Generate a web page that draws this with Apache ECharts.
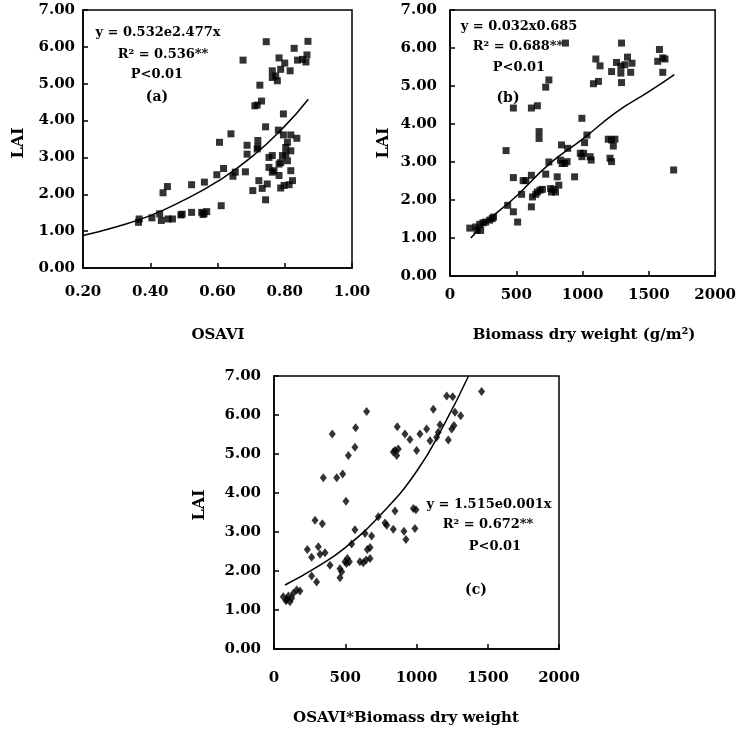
<!DOCTYPE html>
<html>
<head>
<meta charset="utf-8">
<script src="https://cdn.jsdelivr.net/npm/echarts@6/dist/echarts.min.js"></script>
<style>
  html, body { margin: 0; padding: 0; background: #fff; }
  #chart { width: 739px; height: 735px; }
</style>
</head>
<body>
<div id="chart"></div>
<script>
// (a) OSAVI vs LAI
var osaviA = [0.365, 0.367, 0.405, 0.428, 0.433, 0.438, 0.451, 0.453, 0.466, 0.491, 0.495, 0.523, 0.523, 0.553, 0.557, 0.560, 0.568, 0.561, 0.598, 0.606,
  0.611, 0.618, 0.640, 0.646, 0.653, 0.676, 0.683, 0.688, 0.688, 0.705, 0.711, 0.718, 0.718, 0.720, 0.720, 0.723, 0.726, 0.731, 0.733, 0.743,
  0.743, 0.745, 0.748, 0.753, 0.753, 0.763, 0.763, 0.763, 0.763, 0.768, 0.773, 0.778, 0.781, 0.783, 0.783, 0.783, 0.788, 0.788, 0.788, 0.793,
  0.796, 0.796, 0.798, 0.800, 0.803, 0.803, 0.808, 0.808, 0.813, 0.816, 0.818, 0.818, 0.818, 0.823, 0.828, 0.836, 0.838, 0.853, 0.863, 0.866, 0.869]
var laiA = [1.24, 1.33, 1.36, 1.47, 1.29, 2.04, 2.21, 1.33, 1.33, 1.44, 1.46, 1.51, 2.26, 1.51, 1.45, 1.48, 1.53, 2.33, 2.53, 3.41,
  1.69, 2.70, 3.64, 2.49, 2.60, 5.64, 2.61, 3.33, 3.09, 2.10, 4.40, 4.42, 3.23, 3.46, 3.28, 2.37, 4.96, 4.53, 2.16, 1.85,
  3.83, 6.14, 2.28, 3.00, 2.73, 3.05, 2.60, 5.35, 5.17, 2.64, 5.21, 5.08, 3.74, 5.70, 2.82, 2.51, 5.39, 2.86, 2.17, 3.05,
  4.18, 3.61, 2.24, 5.56, 3.27, 3.09, 2.91, 3.41, 2.26, 5.35, 3.61, 3.18, 2.64, 2.37, 5.96, 3.52, 5.64, 5.66, 5.59, 5.78, 6.15]
var trendAx = [0.2, 0.3, 0.4, 0.5, 0.6, 0.7, 0.8, 0.87]
var trendAy = [0.88, 1.12, 1.42, 1.84, 2.35, 3.0, 3.85, 4.58]

// (b) biomass dry weight vs LAI
var biomassB = [149, 194, 204, 224, 231, 249, 269, 299, 318, 328, 423, 435, 478, 478, 478, 510, 540, 552, 572, 614,
  659, 614, 614, 622, 647, 659, 679, 697, 672, 672, 722, 746, 722, 746, 759, 784, 796, 766, 809, 821,
  841, 833, 846, 866, 883, 888, 871, 940, 983, 995, 1008, 995, 1033, 1015, 1057, 1065, 1082, 1120, 1100, 1132,
  1194, 1244, 1232, 1219, 1207, 1219, 1219, 1256, 1289, 1289, 1294, 1294, 1319, 1339, 1363, 1373, 1567, 1580, 1605, 1622, 1605, 1687]
var laiB = [1.26, 1.29, 1.20, 1.36, 1.20, 1.40, 1.42, 1.47, 1.51, 1.55, 3.30, 1.86, 2.59, 4.42, 1.69, 1.42, 2.15, 2.51, 2.51, 4.42,
  4.48, 2.65, 1.82, 2.08, 2.15, 2.21, 2.26, 2.28, 3.80, 3.62, 4.97, 5.16, 2.68, 3.00, 2.30, 2.28, 2.21, 2.21, 2.61, 2.39,
  3.45, 3.05, 2.96, 2.96, 3.01, 3.36, 6.13, 2.61, 3.23, 3.14, 3.23, 4.15, 3.71, 3.51, 3.14, 3.05, 5.06, 5.12, 5.71, 5.53,
  3.60, 3.60, 3.42, 3.58, 3.10, 3.01, 5.38, 5.62, 5.52, 5.34, 6.13, 5.09, 5.56, 5.76, 5.36, 5.60, 5.65, 5.96, 5.74, 5.71, 5.36, 2.79]
var trendBx = [157, 300, 500, 750, 1000, 1250, 1500, 1692]
var trendBy = [1.0, 1.5, 2.1, 2.95, 3.6, 4.3, 4.85, 5.3]

// (c) OSAVI*biomass vs LAI
var productC = [65, 84, 89, 101, 112, 124, 136, 159, 182, 234, 264, 264, 288, 299, 311, 323, 339, 346, 358, 393,
  409, 440, 463, 463, 475, 482, 498, 505, 510, 515, 522, 529, 545, 568, 568, 573, 603, 627, 639, 646,
  650, 655, 674, 674, 685, 732, 779, 791, 837, 849, 837, 849, 861, 872, 865, 912, 919, 926, 954, 978,
  989, 996, 1001, 1024, 1071, 1095, 1118, 1141, 1153, 1165, 1212, 1223, 1247, 1254, 1263, 1270, 1310, 1457]
var laiC = [1.34, 1.24, 1.27, 1.36, 1.21, 1.30, 1.43, 1.51, 1.49, 2.55, 2.35, 1.87, 3.30, 1.72, 2.62, 2.43, 3.21, 4.39, 2.47, 2.15,
  5.51, 4.39, 2.06, 1.83, 1.98, 4.49, 2.24, 3.79, 2.19, 2.32, 4.96, 2.24, 2.69, 5.17, 3.06, 5.67, 2.24, 2.21, 2.96, 2.28,
  6.09, 2.55, 2.32, 2.60, 2.90, 3.39, 3.23, 3.17, 3.07, 3.54, 5.05, 5.09, 4.96, 5.13, 5.70, 3.02, 5.51, 2.81, 5.37, 3.60,
  3.09, 3.57, 5.09, 5.51, 5.64, 5.34, 6.15, 5.43, 5.56, 5.75, 6.49, 5.36, 5.64, 6.47, 5.73, 6.07, 5.98, 6.60]
var trendCx = [77, 300, 500, 750, 1000, 1200, 1365]
var trendCy = [1.64, 2.1, 2.6, 3.45, 4.55, 5.8, 7.0]

var lai = 'LAI'
var font = 'DejaVu Serif'

function pairs(xs, ys) {
  return xs.map(function (x, i) { return [x, ys[i]] })
}

function xAxisCfg(gi, min, max, interval, margin, fmt) {
  return {
    gridIndex: gi, type: 'value', min: min, max: max, interval: interval,
    axisLine: { show: true, onZero: false, lineStyle: { color: '#000', width: 1.5 } },
    axisTick: { show: true, inside: true, length: 5, lineStyle: { color: '#000', width: 1.5 } },
    axisLabel: { margin: margin, color: '#000', fontFamily: font, fontWeight: 'bold', fontSize: 15, formatter: fmt },
    splitLine: { show: false }
  }
}

function yAxisCfg(gi, margin) {
  return {
    gridIndex: gi, type: 'value', min: 0, max: 7, interval: 1,
    axisLine: { show: true, onZero: false, lineStyle: { color: '#000', width: 1.5 } },
    axisTick: { show: true, inside: true, length: 5, lineStyle: { color: '#000', width: 1.5 } },
    axisLabel: { margin: margin, color: '#000', fontFamily: font, fontWeight: 'bold', fontSize: 15,
      formatter: function (v) { return v.toFixed(2) } },
    splitLine: { show: false }
  }
}

function txt(str, x, y, size, rot) {
  return {
    type: 'text', x: x, y: y, rotation: rot || 0,
    style: { text: str, fill: '#000', font: 'bold ' + size + 'px "' + font + '"', textAlign: 'center', textVerticalAlign: 'middle' }
  }
}

var plain = function (v) { return String(v) }

var chart = echarts.init(document.getElementById('chart'))

var option = {
  animation: false,
  backgroundColor: '#fff',
  grid: [
    { left: 83, top: 10, width: 269, height: 258, show: true, borderColor: '#000', borderWidth: 1.5 },
    { left: 450, top: 10, width: 268, height: 266, show: true, borderColor: '#000', borderWidth: 1.5 },
    { left: 274, top: 376, width: 285, height: 273, show: true, borderColor: '#000', borderWidth: 1.5 }
  ],
  xAxis: [
    xAxisCfg(0, 0.2, 1.0, 0.2, 17, function (v) { return v.toFixed(2) }),
    xAxisCfg(1, 0, 2000, 500, 12, plain),
    xAxisCfg(2, 0, 2000, 500, 22, plain)
  ],
  yAxis: [yAxisCfg(0, 8), yAxisCfg(1, 13), yAxisCfg(2, 13)],
  series: [
    { type: 'scatter', xAxisIndex: 0, yAxisIndex: 0, symbol: 'rect', symbolSize: 7,
      itemStyle: { color: '#000' }, data: pairs(osaviA, laiA) },
    { type: 'line', xAxisIndex: 0, yAxisIndex: 0, smooth: true, showSymbol: false,
      lineStyle: { color: '#000', width: 1.5 }, data: pairs(trendAx, trendAy) },
    { type: 'scatter', xAxisIndex: 1, yAxisIndex: 1, symbol: 'rect', symbolSize: 7,
      itemStyle: { color: '#000' }, data: pairs(biomassB, laiB) },
    { type: 'line', xAxisIndex: 1, yAxisIndex: 1, smooth: true, showSymbol: false,
      lineStyle: { color: '#000', width: 1.5 }, data: pairs(trendBx, trendBy) },
    { type: 'scatter', xAxisIndex: 2, yAxisIndex: 2, symbol: 'diamond', symbolSize: [7, 9],
      itemStyle: { color: '#000' }, data: pairs(productC, laiC) },
    { type: 'line', xAxisIndex: 2, yAxisIndex: 2, smooth: true, showSymbol: false, clip: true,
      lineStyle: { color: '#000', width: 1.5 }, data: pairs(trendCx, trendCy) }
  ],
  graphic: [
    // axis titles
    txt(lai, 19, 143, 16, Math.PI / 2),
    txt(lai, 384, 143, 16, Math.PI / 2),
    txt(lai, 200, 505, 16, Math.PI / 2),
    txt('OSAVI', 218, 335, 15),
    txt('Biomass dry weight (g/m²)', 584, 335, 15),
    txt('OSAVI*Biomass dry weight', 406, 718, 15),
    // fit annotations
    txt('y = 0.532e2.477x', 158, 33, 13),
    txt('R² = 0.536**', 163, 55, 13),
    txt('P<0.01', 157, 75, 13),
    txt('(a)', 157, 97, 14),
    txt('y = 0.032x0.685', 519, 27, 13),
    txt('R² = 0.688**', 518, 47, 13),
    txt('P<0.01', 519, 68, 13),
    txt('(b)', 508, 98, 14),
    txt('y = 1.515e0.001x', 489, 505, 13),
    txt('R² = 0.672**', 488, 525, 13),
    txt('P<0.01', 495, 547, 13),
    txt('(c)', 476, 590, 14)
  ]
}

chart.setOption(option)
</script>
</body>
</html>
